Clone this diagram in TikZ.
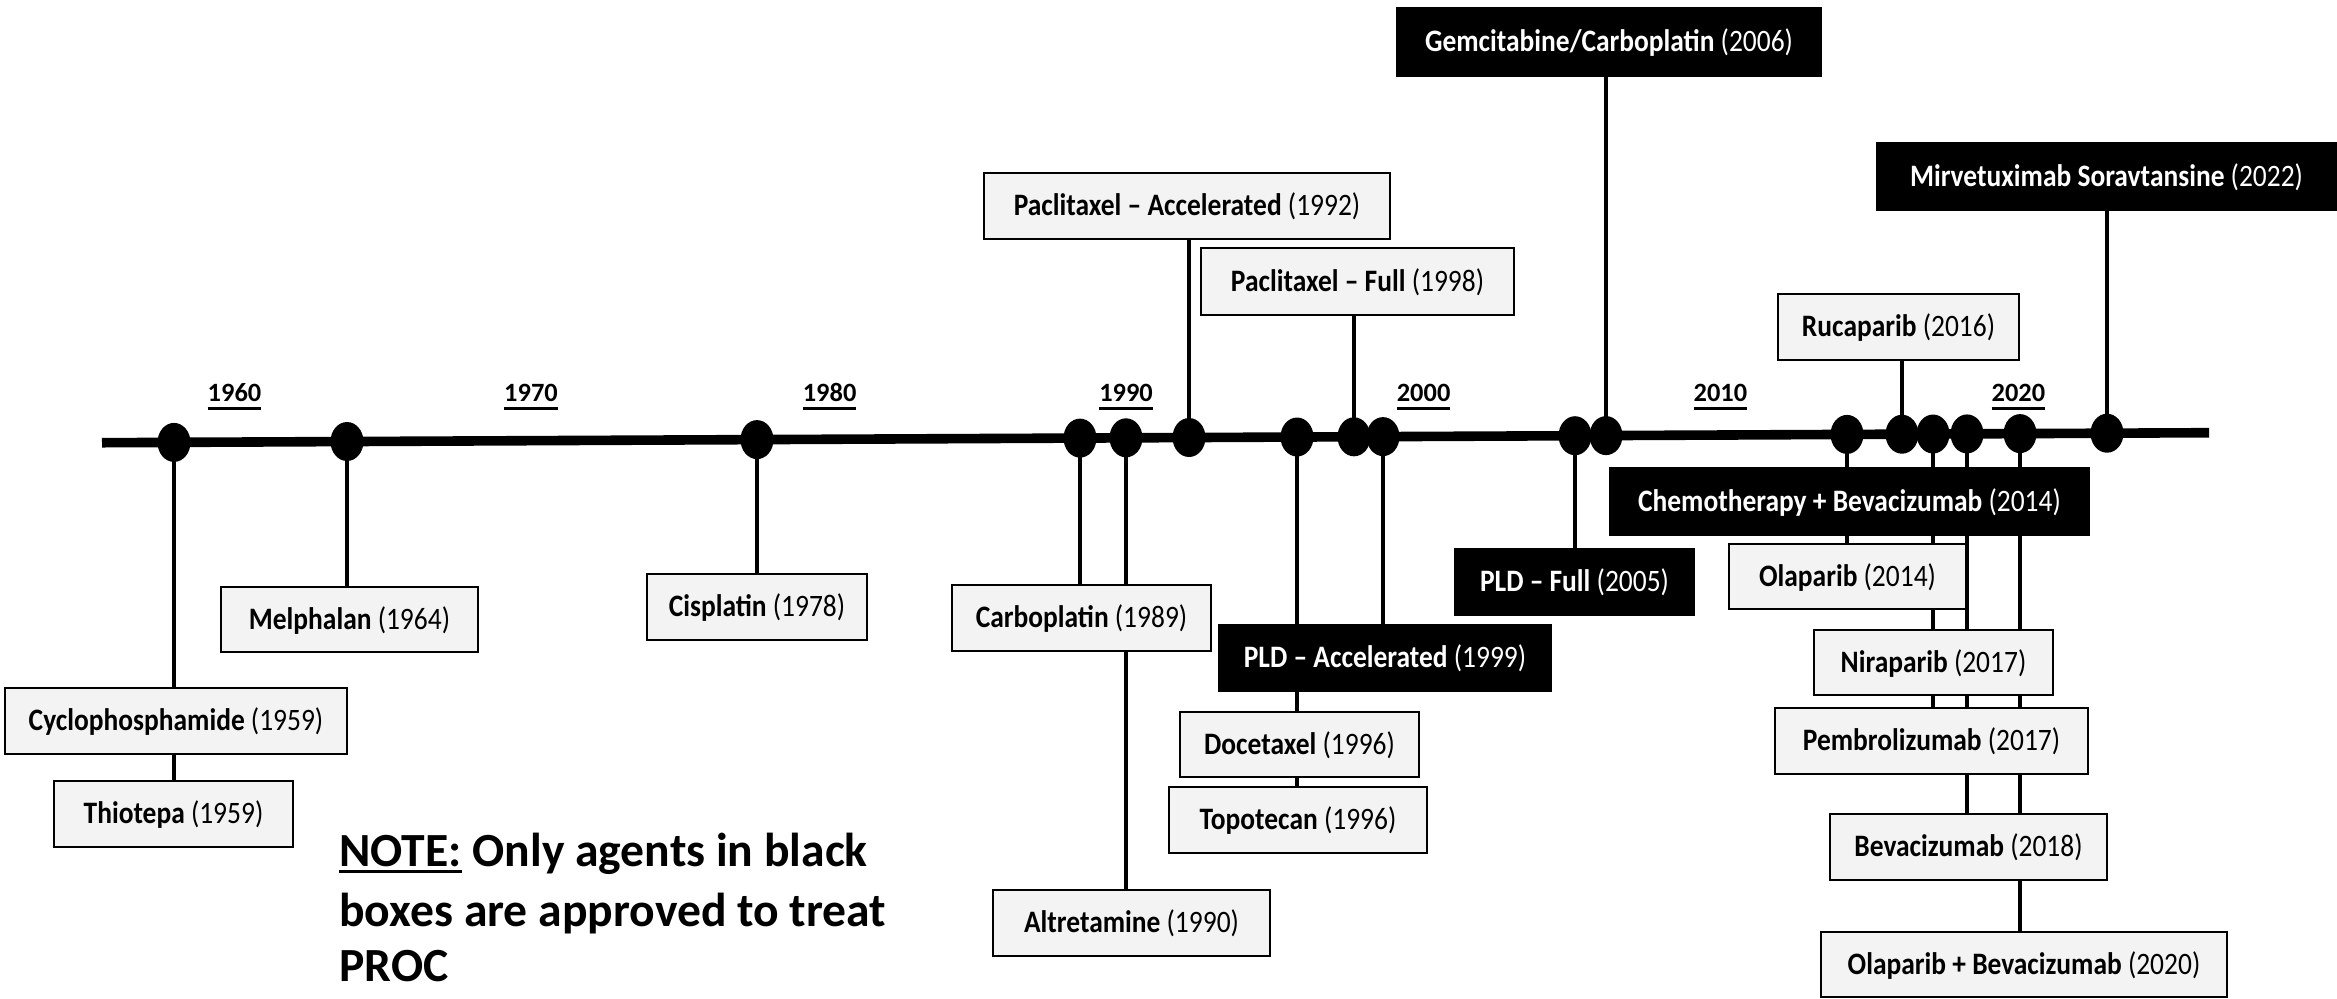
\documentclass[tikz,border=0pt]{standalone}
\usepackage{fontspec}
\setmainfont{Carlito}
\newfontfamily\lblfont[FakeStretch=0.88]{Carlito}
\usetikzlibrary{shapes.geometric,backgrounds}
\definecolor{boxgray}{HTML}{F3F3F3}
\newcommand\myul[3]{\setbox0=\hbox{#3}\rlap{\vrule width \wd0 height -#1 depth \dimexpr#1+#2\relax}\box0\relax}
\newcommand\drug[2]{\textbf{#1} #2}
\tikzset{
  lbox/.style={draw=black, line width=1.4pt, fill=boxgray, inner sep=0pt,
    text height=12pt, text depth=2.1pt,
    font=\lblfont\fontsize{15.6}{18}\selectfont},
  bbox/.style={lbox, fill=black, text=white},
  wh/.style 2 args={minimum width=#1, minimum height=#2},
  dotnode/.style={ellipse, fill=black, draw=none, inner sep=0pt,
    minimum width=16.5pt, minimum height=19.5pt},
  conn/.style={line width=1.6pt, draw=black},
  axisline/.style={line width=4.8pt, draw=black},
  yr/.style={anchor=base, inner sep=0pt, font=\bfseries\fontsize{13.2}{16}\selectfont},
  notetxt/.style={anchor=base west, inner sep=0pt, font=\bfseries\fontsize{23.8}{28}\selectfont},
}
\begin{document}
\begin{tikzpicture}[x=0.5pt,y=-0.5pt]
\useasboundingbox (0,0) rectangle (2337,998);

% axis end points
\coordinate (axL) at (102,442.7);
\coordinate (axR) at (2209,432.7);

% dots
\node[dotnode] (d1)  at (174,442.4) {};
\node[dotnode] (d2)  at (347,441.5) {};
\node[dotnode] (d3)  at (757,439.6) {};
\node[dotnode] (d4)  at (1080,438.1) {};
\node[dotnode] (d5)  at (1126,437.8) {};
\node[dotnode] (d6)  at (1189,437.5) {};
\node[dotnode] (d7)  at (1297,437.0) {};
\node[dotnode] (d8)  at (1354,436.8) {};
\node[dotnode] (d9)  at (1383,436.6) {};
\node[dotnode] (d10) at (1575,435.7) {};
\node[dotnode] (d11) at (1606,435.6) {};
\node[dotnode] (d12) at (1847,434.4) {};
\node[dotnode] (d13) at (1902,434.2) {};
\node[dotnode] (d14) at (1933,434.0) {};
\node[dotnode] (d15) at (1967,433.9) {};
\node[dotnode] (d16) at (2020,433.6) {};
\node[dotnode] (d17) at (2107,433.2) {};

% decade labels
\node[yr] (y1960) at (234.5,401.7) {\myul{2.6pt}{1.3pt}{1960}};
\node[yr] (y1970) at (531,401.7) {\myul{2.6pt}{1.3pt}{1970}};
\node[yr] (y1980) at (829.6,401.7) {\myul{2.6pt}{1.3pt}{1980}};
\node[yr] (y1990) at (1126,401.7) {\myul{2.6pt}{1.3pt}{1990}};
\node[yr] (y2000) at (1423.6,401.7) {\myul{2.6pt}{1.3pt}{2000}};
\node[yr] (y2010) at (1720.4,401.7) {\myul{2.6pt}{1.3pt}{2010}};
\node[yr] (y2020) at (2018.4,401.7) {\myul{2.6pt}{1.3pt}{2020}};

% light boxes
\node[lbox, wh={171pt}{33pt}]   (cyc)    at (176,721)     {\drug{Cyclophosphamide}{(1959)}};
\node[lbox, wh={119.5pt}{33pt}] (thio)   at (173.5,814)   {\drug{Thiotepa}{(1959)}};
\node[lbox, wh={128.5pt}{32.5pt}] (mel)  at (349.5,619.5) {\drug{Melphalan}{(1964)}};
\node[lbox, wh={110pt}{33pt}]   (cis)    at (757,607)     {\drug{Cisplatin}{(1978)}};
\node[lbox, wh={129.5pt}{33pt}] (carbo)  at (1081.5,618)  {\drug{Carboplatin}{(1989)}};
\node[lbox, wh={138.5pt}{33pt}] (alt)    at (1131.5,923)  {\drug{Altretamine}{(1990)}};
\node[lbox, wh={203pt}{33pt}]   (pacacc) at (1187,206)    {\drug{Paclitaxel – Accelerated}{(1992)}};
\node[lbox, wh={156.5pt}{33.5pt}] (pacfull) at (1357.5,281.5) {\drug{Paclitaxel – Full}{(1998)}};
\node[lbox, wh={119.5pt}{32.5pt}] (doc)  at (1299.5,744.5) {\drug{Docetaxel}{(1996)}};
\node[lbox, wh={129pt}{33pt}]   (topo)   at (1298,820)    {\drug{Topotecan}{(1996)}};
\node[lbox, wh={120.5pt}{33pt}] (ruca)   at (1898.5,327)  {\drug{Rucaparib}{(2016)}};
\node[lbox, wh={118.5pt}{32.5pt}] (ola)  at (1847.5,576.5) {\drug{Olaparib}{(2014)}};
\node[lbox, wh={119.5pt}{32.5pt}] (nira) at (1933.5,662.5) {\drug{Niraparib}{(2017)}};
\node[lbox, wh={156.5pt}{33pt}] (pembro) at (1931.5,741)  {\drug{Pembrolizumab}{(2017)}};
\node[lbox, wh={138.5pt}{33pt}] (beva)   at (1968.5,847)  {\drug{Bevacizumab}{(2018)}};
\node[lbox, wh={203pt}{32.5pt}] (olabev) at (2024,964.5)  {\drug{Olaparib + Bevacizumab}{(2020)}};

% black boxes
\node[bbox, wh={166pt}{33pt}]   (pldacc)  at (1385,658)    {\drug{PLD – Accelerated}{(1999)}};
\node[bbox, wh={119.5pt}{33pt}] (pldfull) at (1574.5,582)  {\drug{PLD – Full}{(2005)}};
\node[bbox, wh={212pt}{34pt}]   (gem)     at (1609,42)     {\drug{Gemcitabine/Carboplatin}{(2006)}};
\node[bbox, wh={239.5pt}{33.5pt}] (chemo) at (1849.5,501.5) {\drug{Chemotherapy + Bevacizumab}{(2014)}};
\node[bbox, wh={229.5pt}{33.5pt}] (mirv)  at (2106.5,176.5) {\drug{Mirvetuximab Soravtansine}{(2022)}};

% note
\node[notetxt] (note1) at (339,866.7) {\myul{1.75pt}{1.5pt}{NOTE:} Only agents in black};
\node[notetxt] (note2) at (339,926.7) {boxes are approved to treat};
\node[notetxt] (note3) at (339,981.7) {PROC};

\begin{pgfonlayer}{background}
  \draw[axisline] (axL) -- (axR);
  \draw[conn] (d1.center)  -- (d1 |- thio.north);
  \draw[conn] (d2.center)  -- (d2 |- mel.north);
  \draw[conn] (d3.center)  -- (d3 |- cis.north);
  \draw[conn] (d4.center)  -- (d4 |- carbo.north);
  \draw[conn] (d5.center)  -- (d5 |- alt.north);
  \draw[conn] (d6.center)  -- (d6 |- pacacc.south);
  \draw[conn] (d7.center)  -- (d7 |- topo.north);
  \draw[conn] (d8.center)  -- (d8 |- pacfull.south);
  \draw[conn] (d9.center)  -- (d9 |- pldacc.north);
  \draw[conn] (d10.center) -- (d10 |- pldfull.north);
  \draw[conn] (d11.center) -- (d11 |- gem.south);
  \draw[conn] (d12.center) -- (d12 |- ola.north);
  \draw[conn] (d13.center) -- (d13 |- ruca.south);
  \draw[conn] (d14.center) -- (d14 |- pembro.north);
  \draw[conn] (d15.center) -- (d15 |- beva.north);
  \draw[conn] (d16.center) -- (d16 |- olabev.north);
  \draw[conn] (d17.center) -- (d17 |- mirv.south);
\end{pgfonlayer}
\end{tikzpicture}
\end{document}
